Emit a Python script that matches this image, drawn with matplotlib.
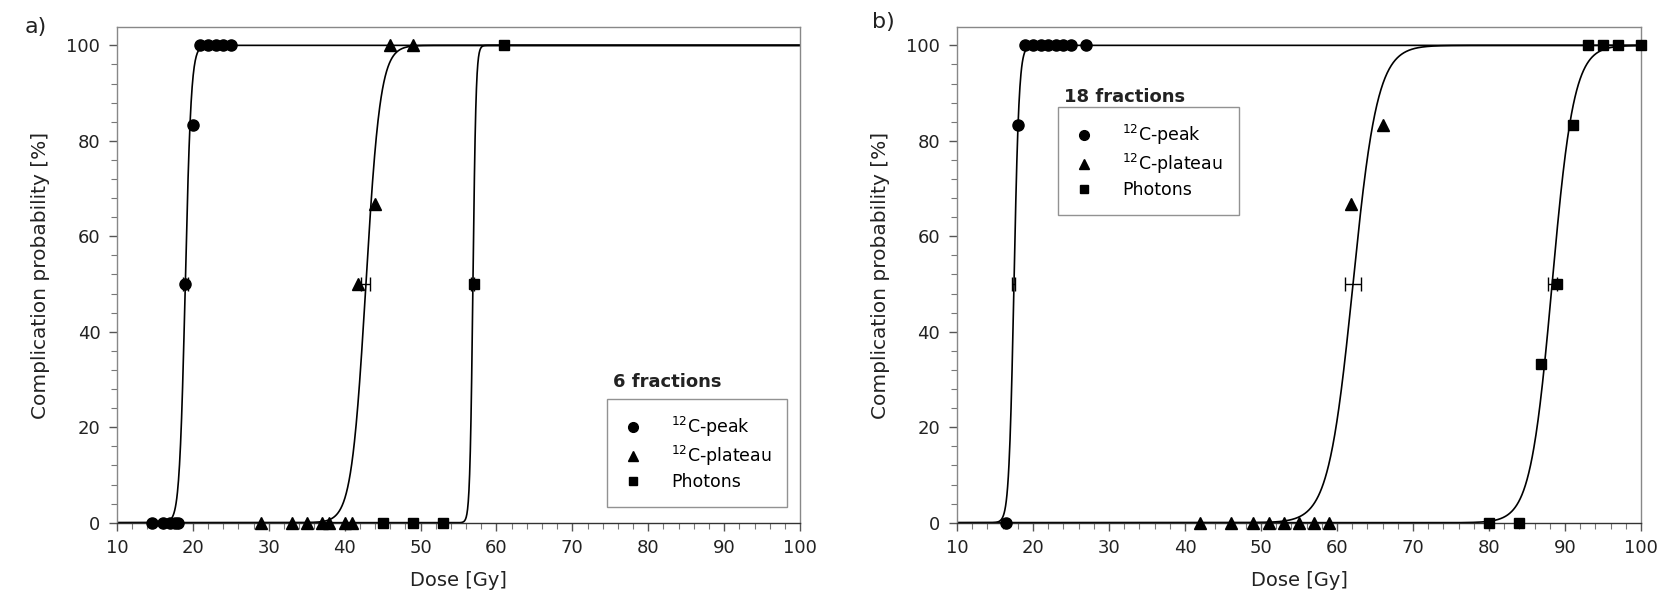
import numpy as np
import matplotlib
matplotlib.use("Agg")
import matplotlib.pyplot as plt
from matplotlib.lines import Line2D
from matplotlib.ticker import MultipleLocator

plt.rcParams['font.family'] = ['DejaVu Sans']

# ---------------- data: panel a (6 fractions) ----------------
a_peak_x = [14.6, 16.1, 17.0, 17.6, 18.0, 19.0, 20.0, 21.0, 22.0, 23.0, 24.0, 25.0]
a_peak_y = [0, 0, 0, 0, 0, 50, 83.3, 100, 100, 100, 100, 100]
a_plat_x = [29, 33, 35, 37, 38, 40, 41, 41.8, 44.0, 46.0, 49.0]
a_plat_y = [0, 0, 0, 0, 0, 0, 0, 50, 66.7, 100, 100]
a_phot_x = [45, 49, 53, 57.0, 61.0]
a_phot_y = [0, 0, 0, 50, 100]
# fitted logistic curves: D50 and slope k
a_fit_d50 = [19.0, 42.8, 56.9]
a_fit_k = [2.6, 1.05, 5.0]
a_d50_err = [0.3, 0.6, 0.2]

# ---------------- data: panel b (18 fractions) ----------------
b_peak_x = [16.5, 18.07, 19, 20, 21, 22, 23, 24, 25, 27]
b_peak_y = [0, 83.3, 100, 100, 100, 100, 100, 100, 100, 100]
b_plat_x = [42, 46, 49, 51, 53, 55, 57, 59, 61.9, 66.0]
b_plat_y = [0, 0, 0, 0, 0, 0, 0, 0, 66.7, 83.3]
b_phot_x = [80, 84, 86.9, 88.9, 91.0, 93, 95, 97, 100]
b_phot_y = [0, 0, 33.3, 50, 83.3, 100, 100, 100, 100]
b_fit_d50 = [17.5, 62.1, 88.3]
b_fit_k = [3.0, 0.62, 0.7]
b_d50_err = [0.2, 1.0, 0.6]

labels = [r"$^{12}$C-peak", r"$^{12}$C-plateau", "Photons"]
markers = ["o", "^", "s"]
msizes = [8, 8, 7]

fig = plt.figure(figsize=(16.64, 6.05), dpi=100)
ax_a = fig.add_axes([0.0703, 0.136, 0.4105, 0.819])
ax_b = fig.add_axes([0.5751, 0.136, 0.4111, 0.819])

def draw(ax, series, d50s, ks, errs, title, leg_anchor, title_pos):
    dose = np.linspace(10, 100, 2000)
    for d50, k in zip(d50s, ks):
        p = 100.0 / (1.0 + np.exp(-k * (dose - d50)))
        ax.plot(dose, p, color="black", lw=1.2, zorder=2)
    for d50, e in zip(d50s, errs):
        ax.errorbar([d50], [50], xerr=[e], fmt="none", ecolor="black",
                    elinewidth=1.0, capsize=5, capthick=1.0, zorder=3)
    for (xs, ys), m, ms in zip(series, markers, msizes):
        ax.plot(xs, ys, linestyle="none", marker=m, ms=ms, color="black",
                clip_on=False, zorder=4)
    ax.set_xlim(10, 100)
    ax.set_ylim(0, 103.8)
    ax.xaxis.set_major_locator(MultipleLocator(10))
    ax.xaxis.set_minor_locator(MultipleLocator(2))
    ax.yaxis.set_major_locator(MultipleLocator(20))
    ax.yaxis.set_minor_locator(MultipleLocator(4))
    ax.set_yticks([0, 20, 40, 60, 80, 100])
    ax.tick_params(axis="both", which="major", direction="out", length=6,
                   width=1.0, color="#555555", labelsize=13, labelcolor="#222222", pad=6)
    ax.tick_params(axis="both", which="minor", direction="out", length=4,
                   width=0.8, color="#777777")
    for s in ax.spines.values():
        s.set_color("#888888")
        s.set_linewidth(1.0)
    ax.spines["bottom"].set_color("#333333")
    ax.set_xlabel("Dose [Gy]", fontsize=14, color="#222222", labelpad=10)
    ax.set_ylabel("Complication probability [%]", fontsize=14.5, color="#222222", labelpad=12)
    handles = [Line2D([], [], linestyle="none", marker=m, ms=ms - 1, color="black")
               for m, ms in zip(markers, msizes)]
    leg = ax.legend(handles, labels, loc="lower left", bbox_to_anchor=leg_anchor,
                    frameon=True, fancybox=False, fontsize=12.5, handlelength=1.2,
                    handletextpad=1.6, labelspacing=0.3, borderpad=0.9,
                    borderaxespad=0, edgecolor="#777777")
    leg.get_frame().set_linewidth(1.0)
    ax.text(title_pos[0], title_pos[1], title, transform=ax.transAxes,
            fontsize=13, fontweight="bold", ha="left", va="center", color="#222222")

draw(ax_a, [(a_peak_x, a_peak_y), (a_plat_x, a_plat_y), (a_phot_x, a_phot_y)],
     a_fit_d50, a_fit_k, a_d50_err, "6 fractions", (0.717, 0.032), (0.726, 0.284))
draw(ax_b, [(b_peak_x, b_peak_y), (b_plat_x, b_plat_y), (b_phot_x, b_phot_y)],
     b_fit_d50, b_fit_k, b_d50_err, "18 fractions", (0.148, 0.621), (0.156, 0.859))

fig.text(36 / 1664, 1 - 27 / 605, "a)", fontsize=16, ha="center", va="center", color="#222222")
fig.text(883 / 1664, 1 - 22 / 605, "b)", fontsize=16, ha="center", va="center", color="#222222")

fig.savefig("out.png", dpi=100)
